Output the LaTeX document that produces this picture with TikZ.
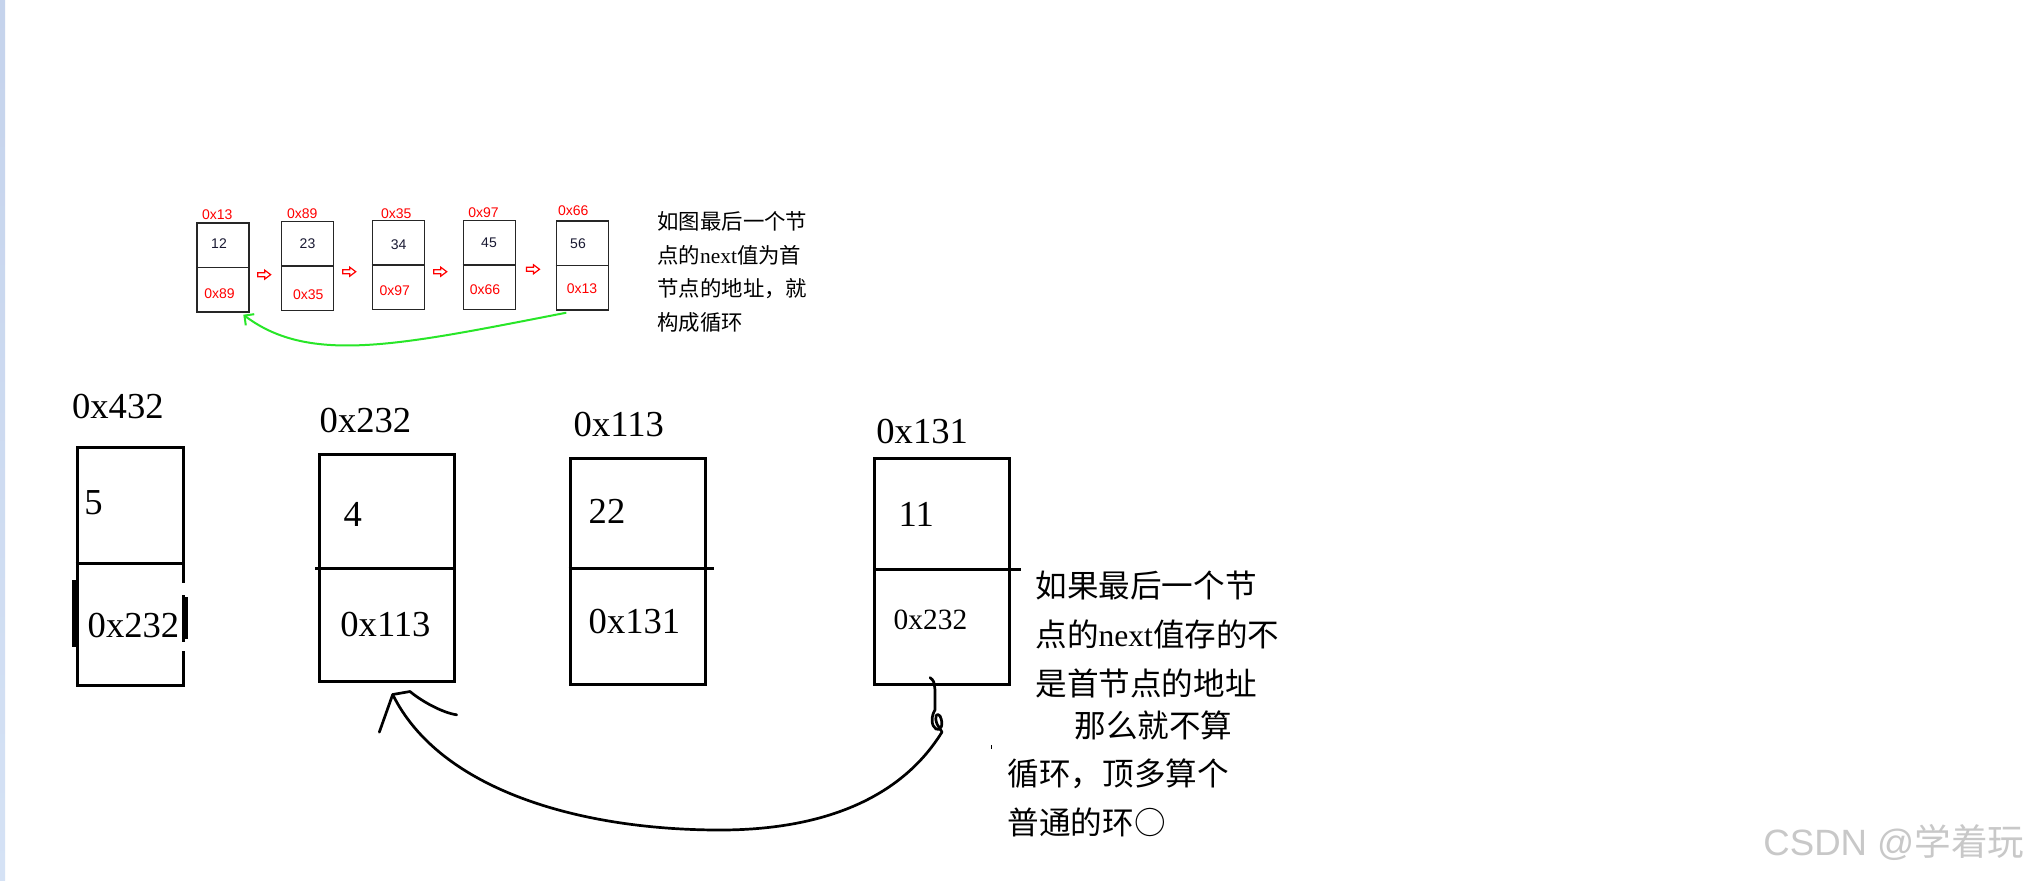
\documentclass[tikz,border=0pt]{standalone}
\usepackage{fontspec}
\setmainfont{Liberation Serif}
\newfontfamily\cjk{Noto Sans CJK SC}
\newfontfamily\sansf{Liberation Sans}
\usetikzlibrary{calc,arrows.meta}
\definecolor{memred}{RGB}{255,0,0}
\definecolor{valdark}{RGB}{25,25,50}
\definecolor{loopgreen}{RGB}{40,230,40}
\definecolor{markgray}{RGB}{200,200,200}
\definecolor{stripA}{RGB}{197,211,236}
\definecolor{stripB}{RGB}{213,226,245}
\tikzset{
  smallbox/.style={draw=black!85, line width=0.7pt, minimum width=26pt, minimum height=44.5pt, inner sep=0pt},
  smalldiv/.style={draw=black!85, line width=0.7pt},
  bigbox/.style={draw=black, line width=1.5pt, inner sep=0pt},
  bigdiv/.style={draw=black, line width=1.5pt},
  addr/.style={font=\sansf\fontsize{7}{8}\selectfont, text=memred, inner sep=0pt},
  val/.style={font=\sansf\fontsize{7}{8}\selectfont, text=valdark, inner sep=0pt},
  bigtxt/.style={font=\fontsize{18.3}{20}\selectfont, inner sep=0pt, anchor=west},
  midtxt/.style={font=\fontsize{14.7}{16}\selectfont, inner sep=0pt, anchor=west},
  topnote/.style={font=\cjk\fontsize{10.7}{16.7}\selectfont, align=left, inner sep=0pt, anchor=west},
  rightnote/.style={font=\cjk\fontsize{15.8}{24.5}\selectfont, align=left, inner sep=0pt, anchor=west},
  hand/.style={draw=black, line width=1.35pt, line cap=round, line join=round},
  hollowarrow/.pic={\draw[memred, line width=0.6pt, line join=miter]
     (-6.5,-2) -- (0.5,-2) -- (0.5,-4.5) -- (6.5,0) -- (0.5,4.5) -- (0.5,2) -- (-6.5,2) -- cycle;}
}
\begin{document}
\begin{tikzpicture}[x=0.5pt,y=-0.5pt]
\useasboundingbox (0,0) rectangle (2030,880);
\fill[white] (0,0) rectangle (2030,880);
\shade[top color=stripA, bottom color=stripB] (0,0) rectangle (5,880);

% ---------- small example list ----------
\node[smallbox] (b1) at (222.8,267.5) {};
\node[smallbox] (b2) at (307.5,265.8) {};
\node[smallbox] (b3) at (398.2,265) {};
\node[smallbox] (b4) at (489.3,265) {};
\node[smallbox] (b5) at (582.3,265.5) {};
\foreach \b in {b1,b2,b3,b4,b5} \draw[smalldiv] (\b.west) -- (\b.east);

\node[addr] (a1) at (217.2,215) {0x13};
\node[addr] (a2) at (302.2,214) {0x89};
\node[addr] (a3) at (396.3,213.3) {0x35};
\node[addr] (a4) at (483.5,212.7) {0x97};
\node[addr] (a5) at (573.2,210.7) {0x66};

\node[val] (v1) at (219,243.3) {12};
\node[val] (v2) at (307.5,243.3) {23};
\node[val] (v3) at (398.7,244.3) {34};
\node[val] (v4) at (489,242.3) {45};
\node[val] (v5) at (578,243.3) {56};

\node[addr] (n1) at (219.5,294) {0x89};
\node[addr] (n2) at (308.3,294.3) {0x35};
\node[addr] (n3) at (394.7,291) {0x97};
\node[addr] (n4) at (485,289.3) {0x66};
\node[addr] (n5) at (582,288.3) {0x13};

\pic at ($(b1.east)!0.5!(b2.west)+(-1,8)$) {hollowarrow};
\pic at ($(b2.east)!0.5!(b3.west)+(-3.6,6.3)$) {hollowarrow};
\pic at ($(b3.east)!0.5!(b4.west)+(-3.5,6.7)$) {hollowarrow};
\pic at ($(b4.east)!0.5!(b5.west)+(-2.8,4)$) {hollowarrow};

\draw[loopgreen, line width=1pt, -{Straight Barb[length=3.5pt,width=7pt]}]
  ($(b5.south)+(-16,2)$) .. controls (400,345) and (310,365) .. ($(b1.south)+(20.5,2)$);

\node[topnote] (topnote) at (657,272)
  {如图最后一个节\\点的{\rmfamily next}值为首\\节点的地址，就\\构成循环};

% ---------- main list ----------
\node[bigbox, minimum width=53pt, minimum height=119pt] (A) at (130.2,566) {};
\node[bigbox, minimum width=67.5pt, minimum height=113.5pt] (B) at (387.3,568) {};
\node[bigbox, minimum width=67.5pt, minimum height=113pt] (C) at (637.5,571.8) {};
\node[bigbox, minimum width=67.5pt, minimum height=113pt] (D) at (942.3,571.8) {};

\draw[bigdiv] ($(A.west)+(0,-3)$) -- ($(A.east)+(0,-3)$);
\draw[bigdiv] ($(B.west)+(-3,0.3)$) -- ($(B.east)+(0,0.3)$);
\draw[bigdiv] ($(C.west)+(0,-3.5)$) -- ($(C.east)+(7,-3.5)$);
\draw[bigdiv] ($(D.west)+(0,-2)$) -- ($(D.east)+(10,-2)$);

% marks on box A's lower cell
\draw[line width=2.75pt] ($(A.west)+(-0.5,14)$) -- ($(A.west)+(-0.5,81)$);
\fill[white] ($(A.east)+(-3,17)$) rectangle ($(A.east)+(4,29)$);
\fill[white] ($(A.east)+(-3,76)$) rectangle ($(A.east)+(4,85)$);
\draw[line width=2pt] ($(A.east)+(1,31)$) -- ($(A.east)+(1,73)$);

\node[bigtxt] (la) at (71.7,406.7) {0x432};
\node[bigtxt] (lb) at (319.3,420.5) {0x232};
\node[bigtxt] (lc) at (573.3,424) {0x113};
\node[bigtxt] (ld) at (876,431) {0x131};

\node[bigtxt] (va) at (84,502.5) {5};
\node[bigtxt] (na) at (87.3,625.5) {0x232};
\node[bigtxt] (vb) at (343.3,514) {4};
\node[bigtxt] (nb) at (340,624.5) {0x113};
\node[bigtxt] (vc) at (588.3,511) {22};
\node[bigtxt] (nc) at (588.3,621) {0x131};
\node[bigtxt] (vd) at (898.3,514) {11};
\node[midtxt] (nd) at (893.3,620) {0x232};

% hand-drawn pointer from the last node back to 0x232
\coordinate (hs) at ($(D.south)+(-12.3,-8.8)$);
\coordinate (ht) at ($(B.south)+(5.4,11.5)$);
\draw[hand] (hs) .. controls (934,681) .. (935,690) -- (935,710)
  .. controls (931,716) and (931,726) .. (936,729)
  .. controls (941,732) and (944,724) .. (940,716)
  .. controls (937,712) and (934,716) .. (937,724) -- (942,732)
  .. controls (900,800) and (820,830) .. (720,830)
  .. controls (580,830) and (440,790) .. (ht);
\draw[hand] ($(ht)+(-13.4,37.7)$) -- (ht) -- ($(ht)+(17.3,-3)$)
  .. controls +(12,10) and +(-14,-2) .. ($(ht)+(64,20.3)$);
\draw[line width=0.75pt] (991.5,745) -- (991.5,749);

\node[rightnote] (rn1) at (1035,634)
  {如果最后一个节\\点的{\rmfamily next}值存的不\\是首节点的地址};
\node[rightnote] (rn2) at (1074,725) {那么就不算};
\node[rightnote] (rn3) at (1007.3,797.5) {循环，顶多算个\\普通的环○};

\node[font=\sansf\fontsize{18.3}{20}\selectfont, text=markgray, inner sep=0pt, anchor=west] (wm)
  at (1763,842) {CSDN @{\cjk 学着玩}};
\end{tikzpicture}
\end{document}
